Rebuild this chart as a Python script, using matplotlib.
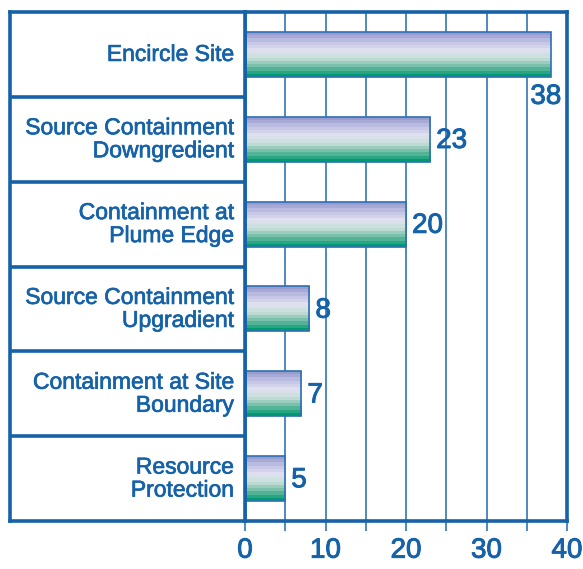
import numpy as np
import matplotlib
matplotlib.use("Agg")
import matplotlib.pyplot as plt
import matplotlib.patheffects as pe
from matplotlib.colors import LinearSegmentedColormap
from matplotlib.patches import Rectangle

# donnees
categories = ["Encircle Site",
              "Source Containment\nDowngredient",
              "Containment at\nPlume Edge",
              "Source Containment\nUpgradient",
              "Containment at Site\nBoundary",
              "Resource\nProtection"]
valeurs = [38, 23, 20, 8, 7, 5]
ticks = [0, 5, 10, 15, 20, 25, 30, 35, 40]
tick_labels = ["0", "", "10", "", "20", "", "30", "", "40"]

bleu = "#1662a8"
bleu_grille = "#4f89c2"
plt.rcParams['font.family'] = ['Liberation Sans', 'DejaVu Sans']
epais = [pe.withStroke(linewidth=0.7, foreground=bleu)]

# degrade des barres (haut lavande -> blanc -> vert)
degrade = LinearSegmentedColormap.from_list(
    "barre", ["#9a9ccf", "#c2c4e4", "#e2e2f2", "#c4ded6", "#6dbba3", "#009a72"])
bandes = np.linspace(0, 1, 14).reshape(-1, 1)

fig = plt.figure(figsize=(5.83, 5.69), dpi=100)
bas = 1 - 521 / 569
haut = 509 / 569

ax = fig.add_axes([245 / 583, bas, 322 / 583, haut])
for x in ticks[1:-1]:
    ax.axvline(x, color=bleu_grille, lw=1.4, zorder=1)

h = 0.53
for i, v in enumerate(valeurs):
    y0 = i + 0.5 - h / 2
    ax.imshow(bandes, cmap=degrade, aspect='auto', interpolation='nearest',
              extent=[0, v, y0 + h, y0], zorder=2)
    ax.add_patch(Rectangle((0, y0), v, h, fill=False, ec="#2f6fb3", lw=1.2, zorder=3))
    if v > 35:
        t = ax.text(v + 1.3, i + 1.0, str(v), ha='right', va='center',
                    fontsize=20, color=bleu, zorder=4)
    else:
        t = ax.text(v + 0.75, i + 0.52, str(v), ha='left', va='center',
                    fontsize=20, color=bleu, zorder=4)
    t.set_path_effects(epais)
ax.set_xlim(0, 40)
ax.set_ylim(len(categories), 0)

ax.set_xticks(ticks)
ax.set_xticklabels(tick_labels)
ax.set_yticks([])
ax.tick_params(axis='x', length=7, width=1.4, color=bleu_grille, labelcolor=bleu,
               labelsize=20, pad=5)
for lab in ax.get_xticklabels():
    lab.set_path_effects(epais)
for s in ax.spines.values():
    s.set_color(bleu)
    s.set_linewidth(2.6)

# colonne des etiquettes
ax2 = fig.add_axes([10 / 583, bas, 235 / 583, haut])
ax2.set_xlim(0, 1)
ax2.set_ylim(len(categories), 0)
ax2.set_xticks([])
ax2.set_yticks([])
for s in ax2.spines.values():
    s.set_color(bleu)
    s.set_linewidth(2.6)
for i in range(1, len(categories)):
    ax2.axhline(i, color=bleu, lw=2.6)
for i, c in enumerate(categories):
    t = ax2.text(0.953, i + 0.5, c, ha='right', va='center', fontsize=16.5,
                 color=bleu, linespacing=1.0)
    t.set_path_effects([pe.withStroke(linewidth=0.5, foreground=bleu)])

fig.savefig("out.png", dpi=100)
